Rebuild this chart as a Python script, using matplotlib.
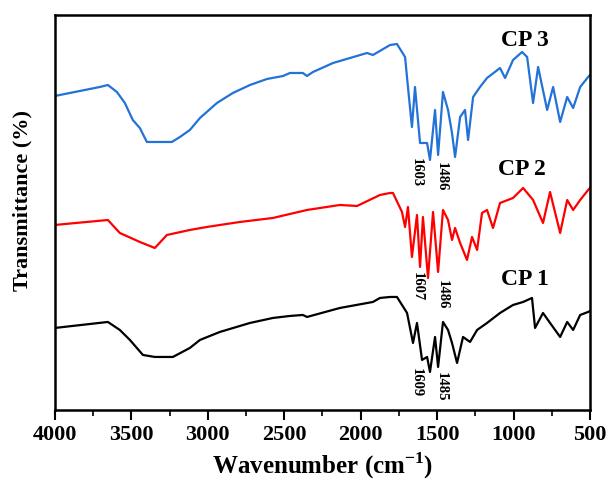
import numpy as np
import matplotlib.pyplot as plt
from matplotlib.ticker import MultipleLocator

plt.rcParams['font.family'] = ['Liberation Serif', 'DejaVu Serif']
plt.rcParams['font.weight'] = 'bold'
plt.rcParams['mathtext.fontset'] = 'custom'
plt.rcParams['mathtext.rm'] = 'Liberation Serif:bold'
plt.rcParams['mathtext.bf'] = 'Liberation Serif:bold'

# FTIR spectra (transmittance in arbitrary offset units)
cp3_wn = [4000, 3706, 3653, 3594, 3542, 3490, 3444, 3398, 3235, 3182, 3117, 3051, 2940, 2836,
          2724, 2613, 2508, 2463, 2378, 2351, 2312, 2181, 1959, 1920, 1808, 1763,
          1710, 1691, 1665, 1645, 1612, 1566, 1547, 1514, 1494, 1462, 1429, 1403, 1383, 1350,
          1318, 1298, 1265, 1220, 1174, 1089, 1056, 1004, 945, 912, 873, 840, 781, 742, 696,
          650, 611, 565, 513, 500]
cp3_t = [314, 323, 325, 318, 307, 290, 282, 268, 268, 273, 280, 292, 307, 317,
         325, 331, 334, 337, 337, 334, 338, 347, 357, 355, 365, 366,
         353, 323, 283, 323, 267, 267, 250, 300, 255, 318, 300, 277, 253, 293,
         300, 270, 313, 323, 332, 342, 332, 350, 358, 353, 307, 343, 300, 323, 288,
         313, 302, 323, 333, 335]

cp2_wn = [4000, 3653, 3575, 3444, 3346, 3267, 3117, 3006, 2790, 2574, 2351, 2136, 2024, 1874,
          1808, 1789, 1730, 1710, 1691, 1665, 1632, 1612, 1593, 1560, 1527, 1494, 1462, 1429,
          1403, 1383, 1350, 1305, 1272, 1239, 1207, 1174, 1135, 1089, 1004, 938, 873, 808,
          762, 696, 650, 611, 565, 513, 500]
cp2_t = [185, 190, 177, 168, 162, 175, 180, 183, 188, 192, 200, 205, 204, 215,
         217, 217, 198, 183, 203, 153, 195, 143, 193, 132, 198, 138, 200, 190,
         170, 182, 167, 150, 173, 160, 197, 200, 182, 207, 212, 222, 210, 187,
         218, 177, 210, 200, 210, 220, 222]

cp1_wn = [4000, 3653, 3575, 3509, 3424, 3346, 3228, 3117, 3051, 2921, 2724, 2574, 2463, 2378,
          2351, 2136, 1920, 1874, 1808, 1763, 1697, 1658, 1632, 1599, 1566, 1547, 1514, 1494,
          1462, 1429, 1403, 1370, 1331, 1285, 1239, 1174, 1089, 1004, 938, 880, 860, 808,
          762, 696, 650, 611, 565, 513, 500]
cp1_t = [82, 88, 80, 70, 55, 53, 53, 62, 70, 78, 87, 92, 94, 95,
         93, 102, 108, 112, 113, 113, 97, 67, 87, 50, 53, 38, 73, 43,
         88, 80, 67, 47, 73, 68, 80, 87, 97, 105, 108, 112, 82, 97,
         87, 73, 88, 80, 95, 98, 99]

fig = plt.figure(figsize=(6.09, 4.84), dpi=100)
ax = fig.add_subplot(111)
fig.subplots_adjust(left=0.090, right=0.969, top=0.969, bottom=0.153)

ax.plot(cp1_wn, cp1_t, color='black', lw=1.6)
ax.plot(cp2_wn, cp2_t, color='#ff0000', lw=1.6)
ax.plot(cp3_wn, cp3_t, color='#2272d8', lw=1.6)

ax.text(925, 370, 'CP 3', fontsize=17, fontweight='bold', ha='center', va='center')
ax.text(945, 240, 'CP 2', fontsize=17, fontweight='bold', ha='center', va='center')
ax.text(925, 130, 'CP 1', fontsize=17, fontweight='bold', ha='center', va='center')

peaks = [(1638, 252, '1603'), (1475, 248, '1486'),
         (1632, 138, '1607'), (1468, 130, '1486'),
         (1638, 42, '1609'), (1475, 38, '1485')]
for x, y, s in peaks:
    ax.text(x, y, s, fontsize=10.5, fontweight='bold', rotation=270, ha='center', va='top')

ax.set_xlim(4000, 500)
ax.set_ylim(0, 395)
ax.xaxis.set_major_locator(MultipleLocator(500))
ax.xaxis.set_minor_locator(MultipleLocator(250))
ax.set_yticks([])
ax.tick_params(axis='x', which='major', length=7, width=1.5, direction='out', labelsize=16)
ax.tick_params(axis='x', which='minor', length=4, width=1.2, direction='out')
for sp in ax.spines.values():
    sp.set_linewidth(1.8)

ax.set_xlabel('Wavenumber (cm$^{-1}$)', fontsize=18, fontweight='bold')
ax.set_ylabel('Transmittance (%)', fontsize=16, fontweight='bold')
ax.yaxis.set_label_coords(-0.041, 0.53)

fig.savefig('out.png', dpi=100)
